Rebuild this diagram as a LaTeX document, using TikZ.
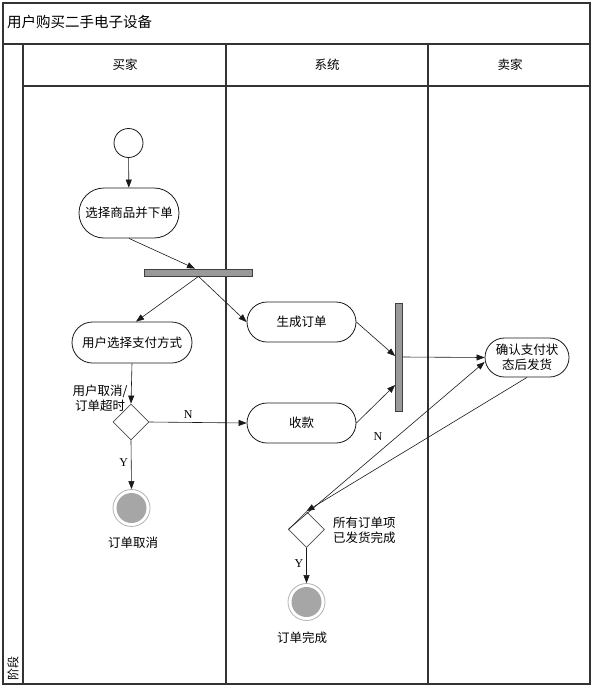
\documentclass[tikz,border=0pt]{standalone}
\usepackage{fontspec}
\setmainfont{Noto Sans CJK SC}
\newfontfamily\latinserif{Liberation Serif}
\usetikzlibrary{arrows.meta,shapes.misc,shapes.geometric}
\begin{document}
\begin{tikzpicture}[x=1pt,y=-1pt,
  frame/.style={draw=black!80,line width=1.3pt},
  act/.style={rounded rectangle, draw=black!90, line width=0.8pt, inner sep=0pt,
    font=\fontsize{12.5}{15}\selectfont, align=center},
  bar/.style={rectangle, draw=black!75, fill=black!40, line width=0.8pt, inner sep=0pt},
  dec/.style={diamond, draw=black!70, line width=0.8pt, minimum width=36pt,
    minimum height=36pt, inner sep=0pt},
  startnode/.style={circle, draw=black!90, line width=0.8pt, minimum size=29pt, inner sep=0pt},
  final/.style={circle, draw=black!30, line width=0.8pt, minimum size=37pt, inner sep=0pt,
    path picture={\fill[black!35] (path picture bounding box.center) circle (15pt);}},
  flow/.style={-{Triangle[length=8pt,width=6pt]}, line width=0.6pt, draw=black!90},
  lbl/.style={font=\fontsize{12.5}{15}\selectfont, align=center, inner sep=0pt},
  yn/.style={font=\latinserif\fontsize{12}{14}\selectfont, inner sep=0pt}
]
\useasboundingbox (0,0) rectangle (594,689);
% frame
\draw[frame] (3,3) rectangle (590,684);
\draw[frame] (3,44) -- (590,44);
\draw[frame] (23,44) -- (23,684);
\draw[frame] (23,86) -- (590,86);
\draw[frame] (226,44) -- (226,684);
\draw[frame] (428,44) -- (428,684);
\node[font=\fontsize{14.5}{17}\selectfont, anchor=west, inner sep=0pt] (title) at (7,22) {用户购买二手电子设备};
\node[lbl] (h1) at (125,65) {买家};
\node[lbl] (h2) at (327,65) {系统};
\node[lbl] (h3) at (510,65) {卖家};
\node[lbl, rotate=90, font=\fontsize{12}{14}\selectfont] (phase) at (13,668) {阶段};
% nodes
\node[startnode] (start) at (128.5,143) {};
\node[act, minimum width=100pt, minimum height=50pt] (a1) at (129,213) {选择商品并下单};
\node[bar, minimum width=108pt, minimum height=7pt] (fork) at (198.5,272.5) {};
\node[act, minimum width=120pt, minimum height=41pt] (pay) at (132,342.5) {用户选择支付方式};
\node[act, minimum width=109pt, minimum height=40pt] (gen) at (301.5,322) {生成订单};
\node[dec] (d1) at (131,422) {};
\node[act, minimum width=109pt, minimum height=40pt] (recv) at (301.5,423) {收款};
\node[bar, minimum width=7pt, minimum height=108pt] (join) at (399,357) {};
\node[act, minimum width=84pt, minimum height=39pt] (conf) at (527,357.5) {确认支付状\\态后发货};
\node[final] (f1) at (131.5,508) {};
\node[lbl] (t1) at (133,543) {订单取消};
\node[dec] (d2) at (306.5,529.5) {};
\node[final] (f2) at (306.5,602) {};
\node[lbl] (t2) at (302,638) {订单完成};
\node[lbl] (c1) at (100,398) {用户取消/\\订单超时};
\node[lbl, align=left, anchor=west] (c2) at (333,530) {所有订单项\\已发货完成};
% edges
\draw[flow] (start) -- (a1);
\draw[flow] (a1.south) -- ([xshift=-3.5pt]fork.north);
\draw[flow] (fork.south) -- ([xshift=4pt]pay.north);
\draw[flow] (fork.south) -- (gen.west);
\draw[flow] (pay.south) -- (d1.north);
\draw[flow] (d1.east) -- node[yn, above=4pt, pos=0.4] (n1) {N} (recv.west);
\draw[flow] (d1.south) -- node[yn, left=3pt, pos=0.45] (y1) {Y} (f1.north);
\draw[flow] (gen.east) -- ([yshift=1pt]join.west);
\draw[flow] (recv.east) -- ([yshift=-28pt]join.west);
\draw[flow] (join.east) -- (conf.west);
\draw[flow] (conf.south) -- (d2.north);
\draw[flow] (d2.west) -- ([yshift=-4.5pt]conf.west);
\node[yn] (n2) at (378,437) {N};
\draw[flow] (d2.south) -- node[yn, left=3pt, pos=0.45] (y2) {Y} (f2.north);
\end{tikzpicture}
\end{document}
